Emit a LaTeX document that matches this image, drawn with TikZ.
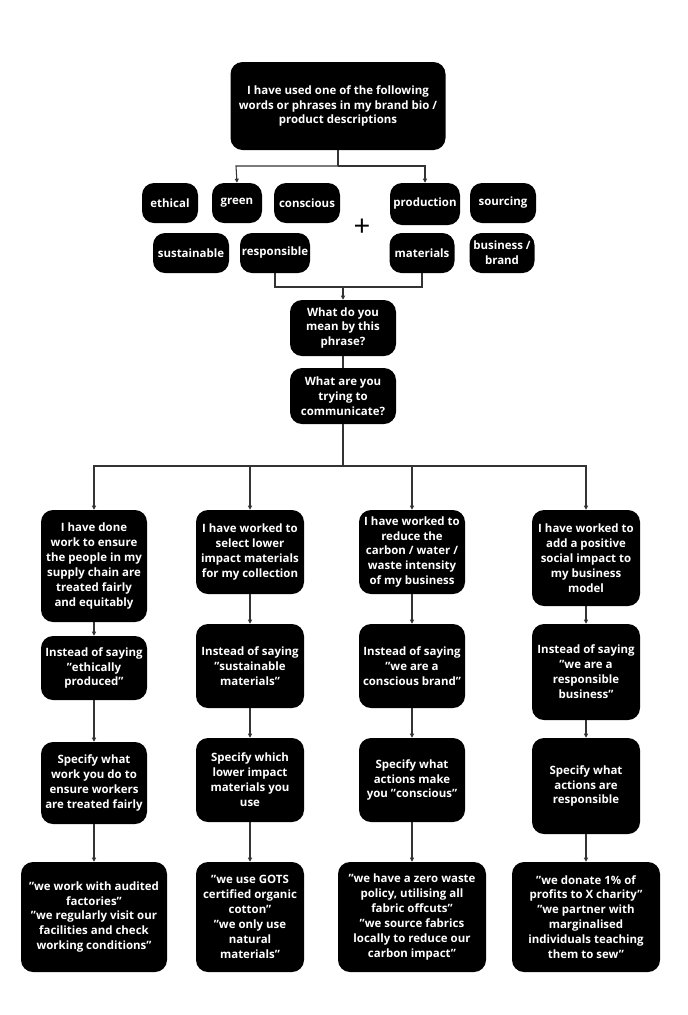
\documentclass[tikz,border=0pt]{standalone}
\usepackage{fontspec}
\setmainfont{Open Sans}
\usetikzlibrary{arrows.meta}
\begin{document}
\begin{tikzpicture}[x=0.75pt,y=-0.75pt,
 b/.style={fill=black,text=white,rounded corners=9pt,align=center,inner sep=1pt,
   font=\bfseries\fontsize{8.6}{11.2}\selectfont},
 ln/.style={draw=black!80,line width=0.8pt},
 ar/.style={ln,-{Triangle[length=3pt,width=3pt]}}]
\useasboundingbox (0,0) rectangle (688,1015);
\newcommand\bx[6]{\node[b,minimum width=#4*0.75pt,minimum height=#5*0.75pt] (#1) at (#2,#3) {#6};}
\bx{top}{338}{106}{215}{88}{I have used one of the following\\words or phrases in my brand bio /\\product descriptions}
\bx{eth}{170}{203}{56}{40}{ethical}
\bx{gre}{237}{203}{50}{40}{green}
\bx{con}{307}{203}{66}{40}{conscious}
\bx{pro}{425}{204}{70}{42}{production}
\bx{sou}{503}{203}{66}{40}{sourcing}
\bx{sus}{191}{253}{76}{40}{sustainable}
\bx{res}{275}{253}{70}{40}{responsible}
\bx{mat}{422}{253}{65}{40}{materials}
\bx{bus}{502}{253}{65}{40}{business /\\brand}
\node[font=\fontsize{22}{22}\selectfont] (plus) at (362,228) {+};
\bx{mean}{343}{328}{106}{56}{What do you\\mean by this\\phrase?}
\bx{try}{343}{396}{106}{56}{What are you\\trying to\\communicate?}
% columns
\bx{a1}{94}{566}{106}{112}{I have done\\work to ensure\\the people in my\\supply chain are\\treated fairly\\and equitably}
\bx{a2}{250}{552}{108}{84}{I have worked to\\select lower\\impact materials\\for my collection}
\bx{a3}{412}{552}{106}{84}{I have worked to\\reduce the\\carbon / water /\\waste intensity\\of my business}
\bx{a4}{586}{558}{108}{96}{I have worked to\\add a positive\\social impact to\\my business\\model}
\bx{b1}{94}{668}{106}{64}{Instead of saying\\"ethically\\produced"}
\bx{b2}{250}{666}{108}{84}{Instead of saying\\"sustainable\\materials"}
\bx{b3}{412}{666}{106}{84}{Instead of saying\\"we are a\\conscious brand"}
\bx{b4}{586}{672}{108}{96}{Instead of saying\\"we are a\\responsible\\business"}
\bx{c1}{94}{783}{106}{82}{Specify what\\work you do to\\ensure workers\\are treated fairly}
\bx{c2}{250}{780}{108}{84}{Specify which\\lower impact\\materials you\\use}
\bx{c3}{412}{780}{106}{84}{Specify what\\actions make\\you "conscious"}
\bx{c4}{586}{786}{108}{96}{Specify what\\actions are\\responsible}
\bx{d1}{94}{917}{146}{110}{"we work with audited\\factories"\\"we regularly visit our\\facilities and check\\working conditions"}
\bx{d2}{250}{917}{108}{110}{"we use GOTS\\certified organic\\cotton"\\"we only use\\natural\\materials"}
\bx{d3}{412}{917}{148}{110}{"we have a zero waste\\policy, utilising all\\fabric offcuts"\\"we source fabrics\\locally to reduce our\\carbon impact"}
\bx{d4}{586}{917}{148}{110}{"we donate 1\% of\\profits to X charity"\\"we partner with\\marginalised\\individuals teaching\\them to sew"}
% connectors
\coordinate (t1) at (338,166);
\coordinate (tl) at (236,166);
\coordinate (tr) at (425,166);
\draw[ln] (top.south) -- (t1);
\draw[ar] (t1) -- (tl) -- (gre.north);
\draw[ar] (t1) -- (tr) -- (pro.north);
\coordinate (bl) at (275,287);
\coordinate (br) at (422,287);
\coordinate (bm) at (343,287);
\draw[ln] (res.south) -- (bl) -- (br) -- (mat.south);
\draw[ar] (bm) -- (mean.north);
\draw[ln] (mean.south) -- (try.north);
\coordinate (h) at (343,466);
\draw[ln] (try.south) -- (h);
\foreach \c/\x in {1/94,2/250,3/412,4/586}{
  \coordinate (h\c) at (\x,466);
  \draw[ar] (h) -- (h\c) -- (a\c.north);
  \draw[ar] (a\c.south) -- (b\c.north);
  \draw[ar] (b\c.south) -- (c\c.north);
  \draw[ar] (c\c.south) -- (d\c.north);
}
\end{tikzpicture}
\end{document}
